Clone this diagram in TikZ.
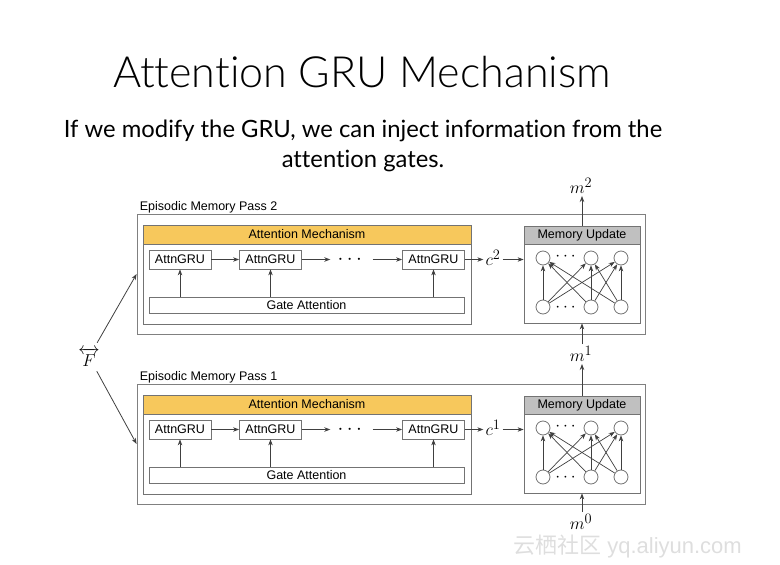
\documentclass[tikz,border=0pt]{standalone}
\usepackage{amsmath}
\usepackage[no-math]{fontspec}
\setmainfont{Lato}[Ligatures={NoCommon,NoContextual}]
\newfontfamily\diagfont{Liberation Sans}
\newfontfamily\titlefont{Lato Light}[Ligatures={NoCommon,NoContextual}]
\newfontfamily\cjk{Noto Sans CJK SC}
\usepackage{tikz}
\usetikzlibrary{positioning,arrows.meta}

\definecolor{attnyellow}{RGB}{247,200,92}
\definecolor{updgray}{RGB}{192,192,192}
\definecolor{boxline}{RGB}{115,115,115}

\tikzset{
  arr/.style={-{Stealth[length=6pt,width=4.5pt]},draw=black!75,line width=0.8pt},
  outerbox/.style={draw=black!50,line width=0.8pt,minimum width=508,minimum height=120,inner sep=0},
  attnbox/.style={draw=boxline,line width=0.8pt,minimum width=328,minimum height=99,inner sep=0},
  membox/.style={draw=boxline,line width=0.8pt,minimum width=116,minimum height=97,inner sep=0},
  header/.style={draw=boxline,line width=0.8pt,inner sep=0,font=\diagfont\fontsize{12.5}{14}\selectfont},
  gru/.style={draw=boxline,line width=0.8pt,minimum width=62,minimum height=19,inner sep=0,font=\diagfont\fontsize{12.5}{14}\selectfont},
  gate/.style={draw=boxline,line width=0.8pt,minimum width=315,minimum height=16,inner sep=0,font=\diagfont\fontsize{12.5}{14}\selectfont},
  passlabel/.style={inner sep=0,font=\diagfont\fontsize{12.5}{14}\selectfont},
  unit/.style={circle,draw=boxline,line width=0.8pt,fill=white,minimum size=14,inner sep=0},
  dotsnode/.style={inner sep=0,minimum width=42,font=\fontsize{20}{20}\selectfont},
  mathlab/.style={inner sep=2pt,font=\fontsize{19}{20}\selectfont}
}

\begin{document}
\begin{tikzpicture}[x=1pt,y=-1pt]
\useasboundingbox (0,0) rectangle (780,565);

% title and text
\node[anchor=base,inner sep=0,font=\titlefont\fontsize{43}{48}\selectfont] (title) at (362,87) {Attention GRU Mechanism};
\node[anchor=base,inner sep=0,font=\fontsize{23.8}{28}\selectfont] (sub1) at (363,137) {If we modify the GRU, we can inject information from the};
\node[anchor=base,inner sep=0,font=\fontsize{23.8}{28}\selectfont] (sub2) at (363,167) {attention gates.};

% the two passes
\foreach \p/\dy in {2/0,1/170}{
  \node[outerbox] (pass\p) at (391,274+\dy) {};
  \node[passlabel,anchor=base west] (plabel\p) at ([xshift=3pt,yshift=3pt]pass\p.north west) {Episodic Memory Pass \p};

  \node[attnbox] (attn\p) at (307,274.5+\dy) {};
  \node[header,fill=attnyellow,minimum width=328,minimum height=19,anchor=north] (ahead\p) at (attn\p.north) {Attention Mechanism};

  \node[gru] (g\p1) at (180,259.5+\dy) {AttnGRU};
  \node[gru] (g\p2) at (270.5,259.5+\dy) {AttnGRU};
  \node[gru] (g\p3) at (433.5,259.5+\dy) {AttnGRU};
  \node[dotsnode] (dots\p) at (351.5,259.5+\dy) {$\cdots$};
  \node[gate] (gate\p) at (306.5,305+\dy) {Gate Attention};

  \draw[arr] (g\p1) -- (g\p2);
  \draw[arr] (g\p2) -- (dots\p);
  \draw[arr] (dots\p) -- (g\p3);
  \foreach \k in {1,2,3}
    \draw[arr] (g\p\k.south |- gate\p.north) -- (g\p\k.south);

  \node[mathlab] (c\p) at (493,258+\dy) {$c^{\p}$};
  \draw[arr] (g\p3) -- (g\p3 -| c\p.west);

  \node[membox] (mem\p) at (582,274.5+\dy) {};
  \node[header,fill=updgray,minimum width=116,minimum height=18,anchor=north] (mhead\p) at (mem\p.north) {Memory Update};
  \draw[arr] (c\p.east |- g\p3) -- (g\p3 -| mem\p.west);

  \node[unit] (t\p1) at (543,258+\dy) {};
  \node[unit] (t\p2) at (591,258+\dy) {};
  \node[unit] (t\p3) at (621,258+\dy) {};
  \node[unit] (b\p1) at (543,307+\dy) {};
  \node[unit] (b\p2) at (591,307+\dy) {};
  \node[unit] (b\p3) at (621,307+\dy) {};
  \node[inner sep=0,font=\fontsize{16}{16}\selectfont] (tdots\p) at (567,257+\dy) {$\cdots$};
  \node[inner sep=0,font=\fontsize{16}{16}\selectfont] (bdots\p) at (567,308+\dy) {$\cdots$};
  \foreach \i in {1,2,3}
    \foreach \j in {1,2,3}
      \draw[arr,line width=0.7pt] (b\p\i) -- (t\p\j);
}

% memory states
\node[mathlab] (m2) at (581,186) {$m^2$};
\node[mathlab] (m1) at (581,354) {$m^1$};
\node[mathlab] (m0) at (581,522) {$m^0$};
\draw[arr] (mem2.north) -- (mem2.north |- m2.south);
\draw[arr] (mem1.north) -- (mem1.north |- m1.south);
\draw[arr] (mem2.south |- m1.north) -- (mem2.south);
\draw[arr] (mem1.south |- m0.north) -- (mem1.south);

% facts
\node[inner sep=5pt,font=\fontsize{17}{18}\selectfont] (facts) at (89,357) {$\overleftrightarrow{F}$};
\draw[arr] (facts) -- (pass2.west);
\draw[arr] (facts) -- (pass1.west);

% watermark
\node[anchor=west,inner sep=0,text=black!13,font=\diagfont\fontsize{22}{24}\selectfont] (wm) at (513,547) {{\cjk 云栖社区} yq.aliyun.com};
\end{tikzpicture}
\end{document}
